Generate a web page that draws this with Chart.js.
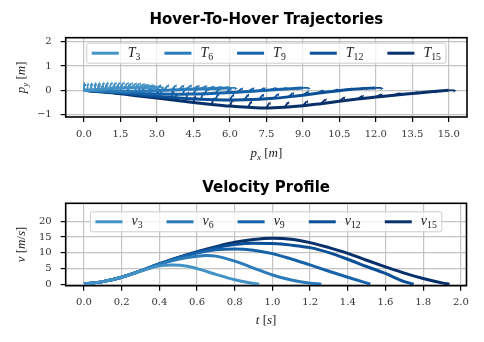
<!DOCTYPE html>
<html>
<head>
<meta charset="utf-8">
<script src="https://cdn.jsdelivr.net/npm/chart.js@4.4.0/dist/chart.umd.min.js"></script>
<style>
  html, body { margin: 0; padding: 0; background: #fff; }
  #wrap { position: relative; width: 484px; height: 342px; }
  .box { position: absolute; left: 0; width: 484px; height: 171px; }
</style>
</head>
<body>
<div id="wrap">
  <div class="box" style="top:0"><canvas id="trajChart"></canvas></div>
  <div class="box" style="top:171px"><canvas id="velChart"></canvas></div>
</div>
<script>
// ---- data ----
const subs = ['3', '6', '9', '12', '15'];
const colors = ['#4292c6', '#2b7bba', '#1763aa', '#0b4f96', '#08306b'];

const pxTicks = [0, 1.5, 3, 4.5, 6, 7.5, 9, 10.5, 12, 13.5, 15];
const pyTicks = [-1, 0, 1, 2];
const tTicks = [0, 0.2, 0.4, 0.6, 0.8, 1.0, 1.2, 1.4, 1.6, 1.8, 2.0];
const vTicks = [0, 5, 10, 15, 20];

// trajectories (top view), 21 samples each
const trajX3 = [0, 0.15, 0.3, 0.45, 0.6, 0.75, 0.9, 1.05, 1.2, 1.35, 1.5, 1.65, 1.8, 1.95, 2.1, 2.25, 2.4, 2.55, 2.7, 2.85, 3.0];
const trajY3 = [0, 0.01, 0.02, 0.03, 0.04, 0.05, 0.06, 0.07, 0.08, 0.09, 0.1, 0.1, 0.11, 0.11, 0.12, 0.12, 0.12, 0.12, 0.12, 0.12, 0.12];
const trajX6 = [0, 0.3, 0.6, 0.9, 1.2, 1.5, 1.8, 2.1, 2.4, 2.7, 3.0, 3.3, 3.6, 3.9, 4.2, 4.5, 4.8, 5.1, 5.4, 5.7, 6.0];
const trajY6 = [0, -0.01, -0.02, -0.03, -0.04, -0.04, -0.04, -0.04, -0.03, -0.02, -0.01, 0, 0.01, 0.02, 0.04, 0.05, 0.06, 0.07, 0.08, 0.09, 0.1];
const trajX9 = [0, 0.45, 0.9, 1.35, 1.8, 2.25, 2.7, 3.15, 3.6, 4.05, 4.5, 4.95, 5.4, 5.85, 6.3, 6.75, 7.2, 7.65, 8.1, 8.55, 9.0];
const trajY9 = [0, -0.02, -0.05, -0.07, -0.1, -0.12, -0.14, -0.15, -0.16, -0.16, -0.15, -0.14, -0.12, -0.1, -0.08, -0.05, -0.02, 0.01, 0.04, 0.07, 0.1];
const trajX12 = [0, 0.6, 1.2, 1.8, 2.4, 3.0, 3.6, 4.2, 4.8, 5.4, 6.0, 6.6, 7.2, 7.8, 8.4, 9.0, 9.6, 10.2, 10.8, 11.4, 12.0];
const trajY12 = [0, -0.04, -0.09, -0.14, -0.2, -0.25, -0.3, -0.34, -0.37, -0.39, -0.4, -0.39, -0.37, -0.33, -0.27, -0.2, -0.12, -0.05, 0.02, 0.07, 0.1];
const trajX15 = [0, 0.75, 1.5, 2.25, 3.0, 3.75, 4.5, 5.25, 6.0, 6.75, 7.5, 8.25, 9.0, 9.75, 10.5, 11.25, 12.0, 12.75, 13.5, 14.25, 15.0];
const trajY15 = [0, -0.07, -0.14, -0.23, -0.32, -0.41, -0.5, -0.58, -0.65, -0.7, -0.73, -0.7, -0.64, -0.55, -0.45, -0.36, -0.28, -0.2, -0.13, -0.06, 0];
// heading of the arrows along each path, degrees
const heading = [90, 90, 89, 87, 84, 80, 76, 72, 68, 64, 60, 55, 50, 45, 40, 34, 28, 21, 14, 7, 0];

// velocity profiles
const t3 = [0, 0.1, 0.2, 0.3, 0.4, 0.47, 0.55, 0.62, 0.7, 0.8, 0.87, 0.93];
const v3 = [0, 0.8, 2.2, 4.1, 5.8, 6.1, 5.7, 4.6, 3.1, 1.4, 0.5, 0];
const t6 = [0, 0.1, 0.2, 0.3, 0.4, 0.5, 0.6, 0.65, 0.7, 0.8, 0.9, 1.0, 1.1, 1.2, 1.26];
const v6 = [0, 0.8, 2.2, 4.2, 6.3, 7.9, 8.9, 9.1, 8.9, 7.3, 5.1, 2.9, 1.3, 0.3, 0];
const t9 = [0, 0.1, 0.2, 0.3, 0.4, 0.5, 0.6, 0.7, 0.8, 0.9, 1.0, 1.1, 1.2, 1.3, 1.4, 1.52];
const v9 = [0, 0.8, 2.2, 4.2, 6.4, 8.3, 9.9, 10.9, 11.2, 10.8, 9.7, 8.0, 6.1, 4.1, 2.2, 0];
const t12 = [0, 0.1, 0.2, 0.3, 0.4, 0.5, 0.6, 0.7, 0.8, 0.9, 1.0, 1.1, 1.2, 1.3, 1.4, 1.5, 1.6, 1.7, 1.75];
const v12 = [0, 0.8, 2.2, 4.2, 6.4, 8.4, 10.1, 11.6, 12.6, 13.0, 12.9, 12.4, 11.6, 10.0, 7.9, 5.6, 3.4, 0.8, 0];
const t15 = [0, 0.1, 0.2, 0.3, 0.4, 0.5, 0.6, 0.7, 0.8, 0.9, 1.0, 1.1, 1.2, 1.3, 1.4, 1.5, 1.6, 1.7, 1.8, 1.9, 1.94];
const v15 = [0, 0.8, 2.2, 4.2, 6.5, 8.5, 10.3, 11.9, 13.3, 14.2, 14.6, 14.3, 13.2, 11.6, 9.8, 7.6, 5.5, 3.5, 1.8, 0.4, 0];

const trajX = [trajX3, trajX6, trajX9, trajX12, trajX15];
const trajY = [trajY3, trajY6, trajY9, trajY12, trajY15];
const tS = [t3, t6, t9, t12, t15];
const vS = [v3, v6, v9, v12, v15];

// ---- drawing helpers ----
const SERIF = '"Liberation Serif", "DejaVu Serif", serif';

function partFont(style, size) {
  const sub = style[0] === 's';
  const it = style[style.length - 1] === 'i';
  return { font: (it ? 'italic ' : '') + (sub ? size * 0.7 : size) + 'px ' + SERIF, dy: sub ? size * 0.28 : 0 };
}
function mathWidth(ctx, parts, size) {
  let w = 0;
  parts.forEach(p => { ctx.font = partFont(p[1], size).font; w += ctx.measureText(p[0]).width; });
  return w;
}
function drawMath(ctx, parts, x, y, size) {
  ctx.textBaseline = 'middle';
  ctx.textAlign = 'left';
  parts.forEach(p => {
    const f = partFont(p[1], size);
    ctx.font = f.font;
    ctx.fillText(p[0], x, y + f.dy);
    x += ctx.measureText(p[0]).width;
  });
}

const deco = {
  id: 'deco',
  afterDatasetDraw(chart, args, opts) {
    if (!opts.arrows) return;
    const i = args.index;
    const ctx = chart.ctx, xs = chart.scales.x, ys = chart.scales.y;
    const col = chart.data.datasets[i].borderColor;
    ctx.save();
    ctx.strokeStyle = col; ctx.fillStyle = col; ctx.lineWidth = 1.8;
    trajX[i].forEach((xv, k) => {
      const px = xs.getPixelForValue(xv), py = ys.getPixelForValue(trajY[i][k]);
      const a = heading[k] * Math.PI / 180;
      const dx = Math.cos(a), dy = -Math.sin(a), L = 8;
      const tx = px + dx * L, ty = py + dy * L;
      ctx.beginPath(); ctx.moveTo(px, py); ctx.lineTo(tx - dx * 2, ty - dy * 2); ctx.stroke();
      ctx.beginPath();
      ctx.moveTo(tx, ty);
      ctx.lineTo(tx - dx * 3.5 - dy * 2.5, ty - dy * 3.5 + dx * 2.5);
      ctx.lineTo(tx - dx * 2.5, ty - dy * 2.5);
      ctx.closePath(); ctx.fill();
    });
    ctx.restore();
  },
  afterDraw(chart, args, opts) {
    const ctx = chart.ctx, a = chart.chartArea;
    const cx = (a.left + a.right) / 2;
    ctx.save();
    // frame
    ctx.strokeStyle = '#000'; ctx.lineWidth = 1.6;
    ctx.strokeRect(a.left, a.top, a.right - a.left, a.bottom - a.top);
    // title
    ctx.fillStyle = '#000';
    ctx.font = 'bold 15px "DejaVu Sans"';
    ctx.textAlign = 'center'; ctx.textBaseline = 'middle';
    ctx.fillText(opts.title, cx, opts.titleY);
    // axis labels
    ctx.fillStyle = '#222';
    const fsz = 13;
    const xw = mathWidth(ctx, opts.xLabel, fsz);
    drawMath(ctx, opts.xLabel, cx - xw / 2, opts.xLabelY, fsz);
    ctx.save();
    ctx.translate(opts.yLabelX, (a.top + a.bottom) / 2);
    ctx.rotate(-Math.PI / 2);
    const yw = mathWidth(ctx, opts.yLabel, fsz);
    drawMath(ctx, opts.yLabel, -yw / 2, 0, fsz);
    ctx.restore();
    // legend
    const ds = chart.data.datasets;
    const handle = 27, gap = 9, colGap = 24, pad = 5, fs = 14;
    const widths = ds.map(d => mathWidth(ctx, d.math, fs));
    const total = widths.reduce((s, w) => s + w, 0) + ds.length * (handle + gap) + (ds.length - 1) * colGap + 2 * pad;
    const lx = cx - total / 2, ly = a.top + opts.legendTop, lh = 20;
    ctx.fillStyle = 'rgba(255,255,255,0.8)';
    ctx.strokeStyle = '#cccccc'; ctx.lineWidth = 1;
    ctx.beginPath(); ctx.roundRect(lx, ly, total, lh, 2); ctx.fill(); ctx.stroke();
    let x = lx + pad;
    const my = ly + lh / 2;
    ds.forEach((d, i) => {
      ctx.strokeStyle = d.borderColor; ctx.lineWidth = 3;
      ctx.beginPath(); ctx.moveTo(x, my); ctx.lineTo(x + handle, my); ctx.stroke();
      ctx.fillStyle = '#222';
      drawMath(ctx, d.math, x + handle + gap, my, fs);
      x += handle + gap + widths[i] + colGap;
    });
    ctx.restore();
  }
};

function axis(min, max, ticks, fmt, fit, pad) {
  return {
    type: 'linear', min, max,
    afterBuildTicks: s => { s.ticks = ticks.map(v => ({ value: v })); },
    afterFit: fit,
    border: { display: false },
    grid: { color: '#c4c4c4', lineWidth: 1.2, tickColor: '#000', tickLength: 5 },
    ticks: { callback: fmt, autoSkip: false, maxRotation: 0, padding: pad, color: '#333', font: { family: '"DejaVu Serif"', size: 10 } }
  };
}
const minus = v => (v < 0 ? '\u2212' + Math.abs(v) : String(v));

new Chart(document.getElementById('trajChart'), {
  type: 'line',
  data: {
    datasets: subs.map((s, i) => ({
      math: [['T', 'i'], [s, 'sr']],
      data: trajX[i].map((x, k) => ({ x, y: trajY[i][k] })),
      borderColor: colors[i], borderWidth: 3, pointRadius: 0,
      cubicInterpolationMode: 'monotone'
    }))
  },
  options: {
    responsive: true, maintainAspectRatio: false, animation: false,
    layout: { padding: { left: 0, right: 17, top: 37.7, bottom: 0 } },
    plugins: {
      legend: { display: false }, tooltip: { enabled: false },
      deco: {
        arrows: true, title: 'Hover-To-Hover Trajectories', titleY: 20,
        xLabel: [['p', 'i'], ['x', 'si'], [' [', 'r'], ['m', 'i'], [']', 'r']], xLabelY: 154,
        yLabel: [['p', 'i'], ['y', 'si'], [' [', 'r'], ['m', 'i'], [']', 'r']], yLabelX: 22,
        legendTop: 5.5
      }
    },
    scales: {
      x: axis(-0.75, 15.75, pxTicks, v => v.toFixed(1), s => { s.height = 54; }, 6),
      y: axis(-1.1, 2.17, pyTicks, minus, s => { s.width = 65.7; }, 9)
    }
  },
  plugins: [deco]
});

new Chart(document.getElementById('velChart'), {
  type: 'line',
  data: {
    datasets: subs.map((s, i) => ({
      math: [['v', 'i'], [s, 'sr']],
      data: tS[i].map((x, k) => ({ x, y: vS[i][k] })),
      borderColor: colors[i], borderWidth: 3, pointRadius: 0,
      cubicInterpolationMode: 'monotone'
    }))
  },
  options: {
    responsive: true, maintainAspectRatio: false, animation: false,
    layout: { padding: { left: 0, right: 17.5, top: 32.3, bottom: 0 } },
    plugins: {
      legend: { display: false }, tooltip: { enabled: false },
      deco: {
        title: 'Velocity Profile', titleY: 17,
        xLabel: [['t', 'i'], [' [', 'r'], ['s', 'i'], [']', 'r']], xLabelY: 150,
        yLabel: [['v', 'i'], [' [', 'r'], ['m', 'i'], ['/', 'r'], ['s', 'i'], [']', 'r']], yLabelX: 22,
        legendTop: 8.5
      }
    },
    scales: {
      x: axis(-0.097, 2.03, tTicks, v => v.toFixed(1), s => { s.height = 56.3; }, 6),
      y: axis(-0.5, 25.7, vTicks, minus, s => { s.width = 65.7; }, 9)
    }
  },
  plugins: [deco]
});
</script>
</body>
</html>
